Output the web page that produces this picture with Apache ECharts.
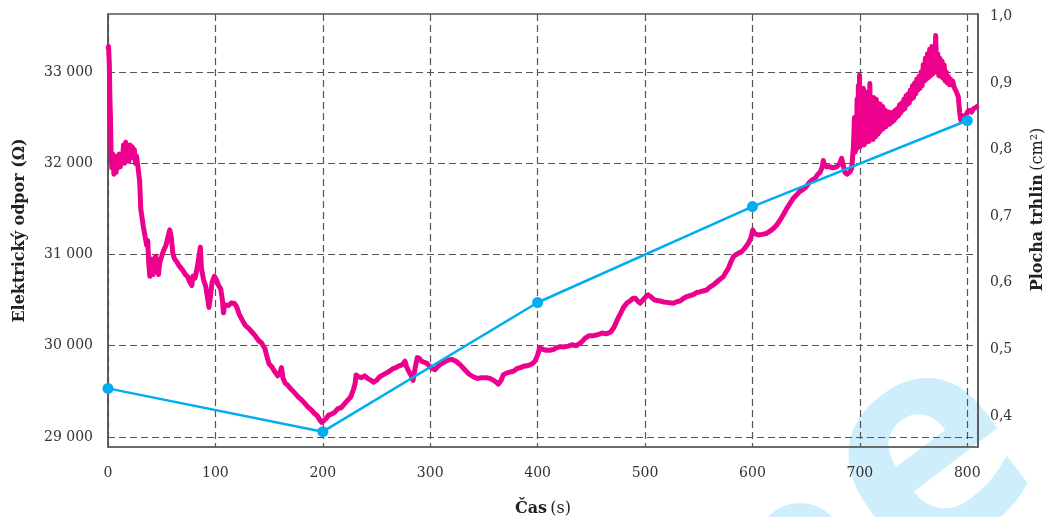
<!DOCTYPE html>
<html>
<head>
<meta charset="utf-8">
<script src="https://cdn.jsdelivr.net/npm/echarts@6/dist/echarts.min.js"></script>
<style>
html,body{margin:0;padding:0;background:#fff;}
#chart{width:1048px;height:517px;}
</style>
</head>
<body>
<div id="chart"></div>
<script>
// Elektrický odpor (Ω) – time (s)
const resistanceTime = [0,0.5,1.2,1.8,2.3,2.8,3.5,4.5,5.5,6.5,7.5,8.5,9.5,10.5,11.5,12.5,13.5,14.5,15.5,16.5,17.5,18.5,19.5,20.5,21.5,22.5,23.5,24.5,25.5,26.5,28,29.5,30.5,31.5,33,34.5,36,37,38,39,40,41,42,43,44.5,46,47,48,50,52,54,56,57.5,59,60.5,62,64,66,68,70,72,74,76,78,79,81,83,85,86,87,89,91,93,94,95.5,97,99,101,103,105,106.5,107.5,108.5,110,112,115,118,120,122,125,128,131,134,137,140,143,146,148,150,152.5,155,158,160,161.5,163,165,167,170,174,177,180,183,186,189,192,195,197,199,201,203,205.5,208,211,214,217,220,223,226,228.5,230,231,233,236,239,242,245,247,250,253,256,259,262,265.5,268,271,274,276.5,278,280,282,284,286,288,290,292,294,296.5,299,302,304.5,307,310,313,316,320,324,328,332,336,340,344,348,352.6,356,359,361.5,363.4,366,368,371,374,377.4,381,384,387,390,393,396,398,400,402,405,408,411.5,415,418,421,424,428.6,432,436,440,444,448,452,456,460,464,468,471,474,477,480,483,486,489,491,493,495.3,498,501,503,506,509,511,514,517,520,523,526.4,529,532.6,536,539,542,545,548,551,554,557.4,560,563.6,566,569,572.9,575,577.6,580,582.3,585,588,590,593,596.2,598.5,600.3,602,605.5,609,613,617,620,622.6,626,629,632,635,638,641,644,647,650,653,656,658.3,661,663,665,666,667,669,672,675,678.5,681,683,684.5,686,688,690.9,692.5,694,
  695,695.6,696.2,696.8,697.4,698,698.6,699.2,699.7,700.3,
  700.9,701.5,702.1,702.7,703.3,703.9,704.5,705.1,705.7,706.3,
  706.9,707.5,708.1,708.7,709.3,709.9,710.5,711.1,711.7,712.3,
  712.9,713.5,714.1,714.7,715.3,715.9,716.5,717.1,717.7,718.3,
  718.9,719.5,720.1,720.7,721.3,721.9,722.5,723.1,723.7,724.3,
  725,726,727,728,729,730,731,732,733,734,
  735,736,737,738,739,740,741,742,743,744,
  745,746,747,748,749,750,751,752,753,754,
  755,756,757,758,759,760,761,762,763,764,
  765,766,767,768,769,770,
  770.6,771.5,772.5,773.5,774.5,775.5,776.5,777.5,778.5,779.5,780.5,781.5,782.5,783.5,784.5,785.5,786.5,787.5,788.6,790,791.7,
  793,794,796,798,800,802,804,806,808,810];
// Elektrický odpor (Ω) – values
const resistanceValue = [33250,33280,33100,32700,32500,32150,31950,32100,31880,32050,31900,32080,31950,32100,31960,32080,32050,32200,32000,32230,32050,32150,32020,32200,32080,32180,32060,32150,32000,32080,31950,31800,31500,31480,31300,31320,31100,31150,30900,30760,30950,30900,30780,30950,30980,30850,30780,30900,30980,31050,31100,31200,31270,31180,31000,30950,30920,30880,30850,30820,30780,30760,30700,30660,30760,30740,30850,31000,31080,30850,30720,30650,30500,30420,30550,30700,30760,30720,30660,30620,30500,30360,30450,30460,30440,30470,30460,30420,30350,30280,30220,30190,30150,30110,30060,30030,29970,29880,29800,29770,29720,29670,29700,29760,29640,29590,29570,29530,29480,29440,29410,29370,29330,29300,29260,29230,29190,29160,29180,29200,29240,29250,29270,29310,29320,29360,29400,29440,29520,29580,29680,29660,29650,29670,29640,29620,29600,29620,29660,29680,29700,29720,29750,29760,29780,29790,29830,29770,29720,29680,29620,29760,29870,29860,29830,29820,29810,29780,29750,29737,29770,29800,29820,29840,29850,29830,29790,29740,29690,29660,29640,29650,29650,29640,29620,29600,29580,29620,29680,29700,29710,29720,29750,29760,29775,29780,29790,29810,29840,29900,29975,29960,29950,29950,29960,29980,29990,29985,29995,30010,30000,30030,30080,30110,30110,30120,30140,30130,30150,30200,30280,30350,30420,30466,30490,30520,30520,30490,30466,30500,30540,30557,30530,30500,30495,30490,30480,30475,30470,30466,30480,30490,30520,30539,30550,30560,30583,30590,30600,30610,30640,30666,30690,30720,30757,30800,30849,30920,30977,31000,31020,31031,31070,31122,31180,31268,31230,31213,31220,31230,31260,31290,31323,31380,31440,31505,31560,31615,31650,31690,31710,31740,31790,31820,31834,31880,31900,31960,32030,31980,31960,31961,31950,31960,31990,32053,31980,31900,31880,31906,31950,32180,
  32500,32120,32480,32150,32700,32180,32850,32200,32964,32180,
  32780,32200,32750,32220,32820,32200,32700,32250,32780,32230,
  32650,32260,32760,32240,32873,32260,32700,32280,32650,32260,
  32720,32300,32640,32290,32700,32320,32660,32320,32620,32340,
  32650,32360,32600,32370,32620,32380,32560,32400,32580,32400,
  32540,32420,32560,32430,32540,32450,32560,32470,32580,32500,
  32600,32520,32640,32550,32660,32580,32700,32600,32740,32640,
  32760,32660,32800,32700,32850,32720,32880,32760,32920,32800,
  32950,32820,33000,32850,33080,32900,33150,32920,33200,32940,
  33250,32960,33280,32980,33250,33000,
  33400,33000,33200,32960,33150,32950,33120,32930,33080,32900,33000,32880,32950,32860,32920,32860,32900,32840,32860,32780,32726,
  32550,32472,32520,32500,32560,32580,32560,32600,32610,32630];
// Plocha trhlin (cm²)
const areaTime = [0, 200, 400, 600, 800];
const areaValue = [0.4415, 0.3765, 0.5704, 0.7144, 0.8436];

const xTicks = [0,100,200,300,400,500,600,700,800];
const leftTicks = [29000,30000,31000,32000,33000];
const rightTicks = [0.4,0.5,0.6,0.7,0.8,0.9,1.0];

const resistanceData = resistanceTime.map((t, i) => [t, resistanceValue[i]]);
const areaData = areaTime.map((t, i) => [t, areaValue[i]]);

const FONT = '"DejaVu Serif", "Liberation Serif", serif';
const chart = echarts.init(document.getElementById('chart'), null, {renderer: 'canvas'});

const gridLine = {show: true, lineStyle: {color: '#555', type: [7, 4], width: 1.2}};

chart.setOption({
  backgroundColor: '#ffffff',
  animation: false,
  graphic: [
    {
      type: 'text', z: -10,
      x: 928, y: 462, rotation: 0.65,
      style: {
        text: 'e', font: 'bold 300px "Noto Sans"', fill: '#cdeefa',
        align: 'center', verticalAlign: 'middle'
      }
    },
    {
      type: 'circle', z: -10,
      shape: {cx: 800, cy: 547, r: 44},
      style: {fill: '#cdeefa'}
    }
  ],
  grid: {
    left: 108, right: 70, top: 14, bottom: 70,
    outerBoundsMode: 'none', containLabel: false,
    show: true, borderColor: '#555', borderWidth: 1.5,
    backgroundColor: 'transparent'
  },
  xAxis: {
    type: 'value', min: 0, max: 810, interval: 100,
    name: '{b|Čas} {n|(s)}',
    nameLocation: 'middle', nameGap: 54,
    nameTextStyle: {
      rich: {
        b: {fontFamily: FONT, fontWeight: 'bold', fontSize: 16, color: '#222'},
        n: {fontFamily: FONT, fontSize: 16, color: '#222'}
      }
    },
    axisLine: {show: true, lineStyle: {color: '#666', width: 1.5}},
    axisTick: {show: false, customValues: xTicks},
    axisLabel: {
      margin: 19, fontFamily: FONT, fontSize: 14, color: '#333',
      customValues: xTicks,
      formatter: v => String(v)
    },
    splitLine: gridLine
  },
  yAxis: [
    {
      type: 'value', min: 28890, max: 33635,
      name: 'Elektrický odpor (Ω)',
      nameLocation: 'middle', nameGap: 80, nameRotate: 90,
      nameTextStyle: {fontFamily: FONT, fontWeight: 'bold', fontSize: 16, color: '#222'},
      axisLine: {show: true, lineStyle: {color: '#555', width: 1.5}},
      axisTick: {show: false, customValues: leftTicks},
      axisLabel: {
        margin: 15, fontFamily: FONT, fontSize: 14, color: '#333',
        customValues: leftTicks,
        formatter: v => String(v).replace(/(\d{2})(\d{3})$/, '$1 $2')
      },
      splitLine: gridLine
    },
    {
      type: 'value', min: 0.3535, max: 1.0035,
      position: 'right',
      name: '{b|Plocha trhlin} {n|(cm²)}',
      nameLocation: 'middle', nameGap: 52, nameRotate: 90,
      nameTextStyle: {
        padding: [0, 0, 0, 42],
        rich: {
          b: {fontFamily: FONT, fontWeight: 'bold', fontSize: 16, color: '#222'},
          n: {fontFamily: FONT, fontSize: 16, color: '#222'}
        }
      },
      axisLine: {show: true, lineStyle: {color: '#555', width: 1.5}},
      axisTick: {show: false, customValues: rightTicks},
      axisLabel: {
        margin: 12, fontFamily: FONT, fontSize: 14, color: '#333',
        customValues: rightTicks,
        formatter: v => v.toFixed(1).replace('.', ',')
      },
      splitLine: {show: false}
    }
  ],
  series: [
    {
      type: 'line', name: 'Elektrický odpor', yAxisIndex: 0,
      data: resistanceData, showSymbol: false, symbol: 'none',
      lineStyle: {color: '#ec008c', width: 5, join: 'round'},
      z: 3
    },
    {
      type: 'line', name: 'Plocha trhlin', yAxisIndex: 1,
      data: areaData, symbol: 'circle', symbolSize: 11,
      itemStyle: {color: '#00aeef'},
      lineStyle: {color: '#00aeef', width: 2.5},
      z: 4
    }
  ]
});
</script>
</body>
</html>
